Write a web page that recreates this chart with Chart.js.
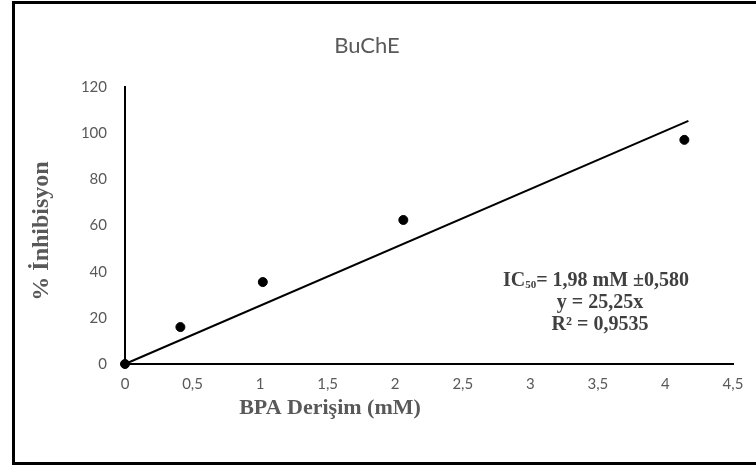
<!DOCTYPE html>
<html>
<head>
<meta charset="utf-8">
<script src="https://cdn.jsdelivr.net/npm/chart.js@4"></script>
<style>
  html, body { margin: 0; padding: 0; background: #fff; overflow: hidden; }
  #wrap { position: relative; width: 756px; height: 466px; }
  #frame { position: absolute; left: 12px; top: 1px; width: 800px; height: 458px; border: 3px solid #000; pointer-events: none; }
  canvas { position: absolute; left: 0; top: 0; }
</style>
</head>
<body>
<div id="wrap">
  <canvas id="chart" width="756" height="466"></canvas>
  <div id="frame"></div>
</div>
<script>
// measured points (BPA concentration mM, % inhibition)
const concX = [0, 0.41, 1.02, 2.06, 4.14];
const inhibY = [0, 16.0, 35.5, 62.4, 97.1];
// trend line ends (y = 25,25x)
const trendX = [0, 4.17];
const trendY = [0, 105.3];

const chartTitle = 'BuChE';
const xTitle = 'BPA Derişim (mM)';
const yTitle = '% İnhibisyon';
const noteLines = ['= 1,98 mM ±0,580', 'y = 25,25x', 'R² = 0,9535'];

const comma = v => String(v).replace('.', ',');

const textPlugin = {
  id: 'texts',
  afterDraw(chart) {
    const ctx = chart.ctx;
    ctx.save();
    ctx.textBaseline = 'middle';
    ctx.textAlign = 'center';

    ctx.fillStyle = '#595959';
    ctx.font = '22px Lato';
    ctx.fillText(chartTitle, 367, 46);

    ctx.font = 'bold 22px "Liberation Serif"';
    ctx.fillText(xTitle, 330, 408);

    ctx.save();
    ctx.translate(42, 231);
    ctx.rotate(-Math.PI / 2);
    ctx.font = 'bold 24px "Liberation Serif"';
    ctx.fillText(yTitle, 0, 0);
    ctx.restore();

    // annotation block
    ctx.fillStyle = '#404040';
    const big = 'IC';
    ctx.font = 'bold 20px "Liberation Serif"';
    const wBig = ctx.measureText(big).width;
    const wRest = ctx.measureText(noteLines[0]).width;
    ctx.font = 'bold 11px "Liberation Serif"';
    const wSub = ctx.measureText('50').width;
    let x = 596 - (wBig + wSub + wRest) / 2;
    ctx.textAlign = 'left';
    ctx.font = 'bold 20px "Liberation Serif"';
    ctx.fillText(big, x, 281);
    x += wBig;
    ctx.font = 'bold 11px "Liberation Serif"';
    ctx.fillText('50', x, 285);
    x += wSub;
    ctx.font = 'bold 20px "Liberation Serif"';
    ctx.fillText(noteLines[0], x, 281);
    ctx.textAlign = 'center';
    ctx.fillText(noteLines[1], 600, 303);
    ctx.fillText(noteLines[2], 600, 325);
    ctx.restore();
  }
};

new Chart(document.getElementById('chart'), {
  type: 'scatter',
  data: {
    datasets: [
      {
        label: 'trend',
        type: 'line',
        data: trendX.map((x, i) => ({x: x, y: trendY[i]})),
        borderColor: '#000',
        borderWidth: 2,
        pointRadius: 0,
        fill: false,
        clip: false
      },
      {
        label: 'BuChE',
        data: concX.map((x, i) => ({x: x, y: inhibY[i]})),
        backgroundColor: '#000',
        borderColor: '#000',
        pointRadius: 4.5,
        clip: false
      }
    ]
  },
  options: {
    responsive: false,
    animation: false,
    layout: { padding: { left: 60, right: 23, top: 87, bottom: 40 } },
    plugins: {
      legend: { display: false },
      title: { display: false },
      tooltip: { enabled: false }
    },
    scales: {
      x: {
        type: 'linear',
        min: 0,
        max: 4.5,
        grid: { display: false },
        border: { display: true, color: '#000', width: 2 },
        ticks: {
          stepSize: 0.5,
          color: '#595959',
          font: { family: 'Lato', size: 15 },
          padding: 3,
          maxRotation: 0,
          callback: v => comma(v)
        },
        afterFit: s => { s.height = 62; }
      },
      y: {
        min: 0,
        max: 120,
        grid: { display: false },
        border: { display: true, color: '#000', width: 2 },
        ticks: {
          stepSize: 20,
          color: '#595959',
          font: { family: 'Lato', size: 15 },
          padding: 10
        },
        afterFit: s => { s.width = 65; }
      }
    }
  },
  plugins: [textPlugin]
});
</script>
</body>
</html>
